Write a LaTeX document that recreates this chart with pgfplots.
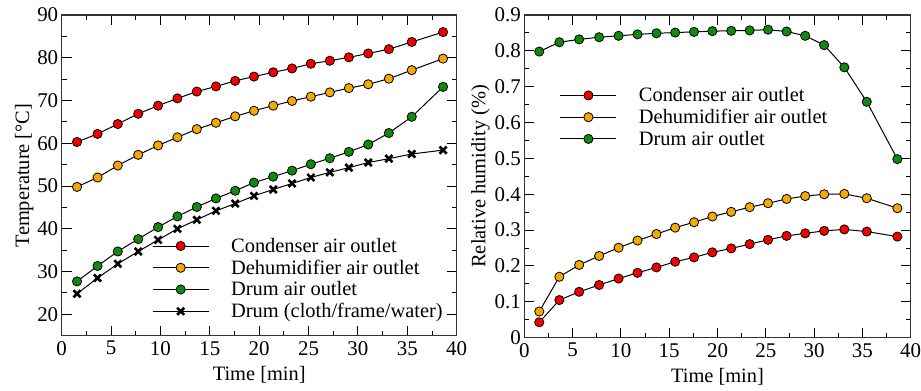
\documentclass[border=0pt]{standalone}
\usepackage{fontspec}
\setmainfont{Liberation Serif}
\usepackage{pgfplots}
\pgfplotsset{compat=1.18}
\definecolor{cred}{HTML}{F20000}
\definecolor{corange}{HTML}{F5A800}
\definecolor{cgreen}{HTML}{0F8A0F}
\pgfplotsset{
  every axis/.append style={
    scale only axis,
    font=\fontsize{20.5}{22}\selectfont,
    tick label style={font=\fontsize{21}{22}\selectfont},
    /pgf/number format/assume math mode=true,
    tick align=inside,
    major tick length=10bp,
    minor tick length=5bp,
    every tick/.style={black, line width=1pt},
    axis line style={line width=1.4pt, black!80},
    xmin=0, xmax=40,
    xtick={0,5,...,40},
    minor x tick num=1,
    minor y tick num=1,
    xticklabel style={yshift=-2bp},
    xlabel style={yshift=-4bp},
    legend style={draw=none, fill=none, font=\fontsize{20.5}{22}\selectfont, row sep=2bp, text depth=0pt},
    legend cell align=left,
    legend image code/.code={\draw[#1, mark repeat=2, mark phase=2] plot coordinates {(0bp,0bp) (28bp,0bp) (56bp,0bp)};},
    legend style={/tikz/every odd column/.append style={column sep=20bp}},
  },
  ser/.style={black, line width=1pt, mark=*, mark size=4.6bp, mark options={draw=black, line width=0.8pt, fill=#1}},
  crs/.style={black, line width=1pt, mark=x, mark size=5bp, mark options={line width=2.6pt, black}},
}
\begin{document}
\begin{tikzpicture}
\path[use as bounding box] (-61.7bp,-55.3bp) rectangle (859.3bp,335.7bp);
\begin{axis}[
  at={(0bp,0bp)}, anchor=south west,
  width=395bp, height=320.7bp,
  ymin=15, ymax=90, ytick={20,30,...,90},
  xlabel={Time [min]}, ylabel={Temperature [°C]},
  ylabel style={yshift=-3bp},
  legend style={at={(rel axis cs:0.221,0.0)}, anchor=south west, yshift=12.3bp},
]
\addplot[ser=cred] coordinates {(1.55,60.3)(3.63,62.2)(5.68,64.5)(7.75,66.9)(9.76,68.8)(11.72,70.5)(13.68,72.1)(15.62,73.3)(17.57,74.6)(19.47,75.6)(21.42,76.6)(23.33,77.5)(25.23,78.6)(27.15,79.3)(29.08,80.1)(31.04,81.0)(33.13,82.0)(35.45,83.7)(38.62,86.0)};
\addlegendentry{Condenser air outlet}
\addplot[ser=corange] coordinates {(1.55,49.8)(3.63,52.0)(5.68,54.8)(7.75,57.3)(9.76,59.5)(11.72,61.4)(13.68,63.3)(15.62,64.8)(17.57,66.3)(19.47,67.6)(21.42,68.8)(23.33,69.9)(25.23,70.9)(27.15,71.9)(29.08,72.9)(31.04,73.8)(33.13,75.1)(35.45,77.1)(38.62,79.8)};
\addlegendentry{Dehumidifier air outlet}
\addplot[ser=cgreen] coordinates {(1.55,27.7)(3.63,31.3)(5.68,34.7)(7.75,37.6)(9.76,40.4)(11.72,42.9)(13.68,45.1)(15.62,47.1)(17.57,48.9)(19.47,50.8)(21.42,52.2)(23.33,53.6)(25.23,55.1)(27.15,56.5)(29.08,58.0)(31.04,59.7)(33.13,62.4)(35.45,66.2)(38.62,73.2)};
\addlegendentry{Drum air outlet}
\addplot[crs] coordinates {(1.55,24.8)(3.63,28.5)(5.68,31.8)(7.75,34.7)(9.76,37.4)(11.72,40.0)(13.68,42.1)(15.62,44.2)(17.57,45.9)(19.47,47.7)(21.42,49.2)(23.33,50.6)(25.23,52.0)(27.15,53.2)(29.08,54.3)(31.04,55.5)(33.13,56.4)(35.45,57.5)(38.62,58.4)};
\addlegendentry{Drum (cloth/frame/water)}
\node[anchor=east, inner sep=0pt] at ([xshift=-29bp]rel axis cs:0,1) {(a)};
\end{axis}
\begin{axis}[
  at={(462.6bp,-2bp)}, anchor=south west,
  width=386.4bp, height=322.7bp,
  ymin=0, ymax=0.9, ytick={0,0.1,...,0.9},
  yticklabel style={/pgf/number format/fixed, /pgf/number format/precision=1},
  xlabel={Time [min]}, ylabel={Relative humidity (\%)},
  ylabel style={yshift=-2bp},
  legend style={at={(rel axis cs:0.084,0.788)}, anchor=north west},
]
\addplot[ser=cred] coordinates {(1.55,0.043)(3.63,0.105)(5.68,0.128)(7.75,0.147)(9.76,0.165)(11.72,0.181)(13.68,0.196)(15.62,0.212)(17.57,0.224)(19.47,0.238)(21.42,0.249)(23.33,0.261)(25.23,0.273)(27.15,0.284)(29.08,0.291)(31.04,0.298)(33.13,0.302)(35.45,0.296)(38.62,0.282)};
\addlegendentry{Condenser air outlet}
\addplot[ser=corange] coordinates {(1.55,0.073)(3.63,0.170)(5.68,0.203)(7.75,0.228)(9.76,0.251)(11.72,0.271)(13.68,0.289)(15.62,0.307)(17.57,0.322)(19.47,0.338)(21.42,0.351)(23.33,0.364)(25.23,0.375)(27.15,0.387)(29.08,0.395)(31.04,0.400)(33.13,0.401)(35.45,0.389)(38.62,0.361)};
\addlegendentry{Dehumidifier air outlet}
\addplot[ser=cgreen] coordinates {(1.55,0.798)(3.63,0.824)(5.68,0.832)(7.75,0.838)(9.76,0.842)(11.72,0.846)(13.68,0.849)(15.62,0.851)(17.57,0.853)(19.47,0.855)(21.42,0.856)(23.33,0.857)(25.23,0.859)(27.15,0.854)(29.08,0.842)(31.04,0.816)(33.13,0.754)(35.45,0.658)(38.62,0.498)};
\addlegendentry{Drum air outlet}
\node[anchor=east, inner sep=0pt] at ([xshift=-39bp]rel axis cs:0,1) {(b)};
\end{axis}
\end{tikzpicture}
\end{document}
